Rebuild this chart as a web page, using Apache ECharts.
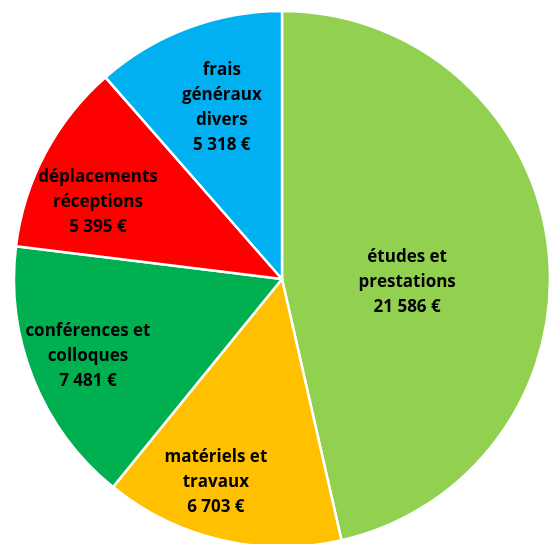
<!DOCTYPE html>
<html><head><meta charset="utf-8">
<script src="https://cdn.jsdelivr.net/npm/echarts@6/dist/echarts.min.js"></script>
<style>html,body{margin:0;padding:0;background:#fff}#c{width:560px;height:544px}</style>
</head><body><div id="c"></div>
<script>
const categories = ["études et\nprestations", "matériels et\ntravaux", "conférences et\ncolloques", "déplacements\nréceptions", "frais\ngénéraux\ndivers"];
const values = [21586, 6703, 7481, 5395, 5318];
const colors = ["#92D050", "#FFC000", "#00B050", "#FF0000", "#00B0F0"];
// label nudges (style only), to mimic the reference's label placement
const labelShift = [[-11, 18], [-35, 70], [-67, 26], [-63, -13], [-12, -43]];

function fmt(v){ return String(v).replace(/\B(?=(\d{3})+(?!\d))/g, " ") + " €"; }

const chart = echarts.init(document.getElementById('c'), null, {renderer:'canvas'});
chart.setOption({
  animation:false,
  series:[{
    type:'pie',
    center:[282,279],
    radius:[0,268],
    startAngle:90,
    clockwise:true,
    avoidLabelOverlap:false,
    data: categories.map((c,i)=>({name:c, value:values[i], itemStyle:{color:colors[i]}})),
    itemStyle:{borderColor:'#fff', borderWidth:2.5},
    label:{
      show:true, position:'inside',
      formatter:p=>p.name+"\n"+fmt(p.value),
      fontFamily:'Open Sans', fontWeight:'bold', fontSize:17, lineHeight:25,
      color:'#000', align:'center'
    },
    labelLine:{show:false},
    labelLayout:function(p){ const s = labelShift[p.dataIndex]; return {dx:s[0], dy:s[1], hideOverlap:false}; },
    emphasis:{disabled:true}
  }]
});
</script></body></html>
